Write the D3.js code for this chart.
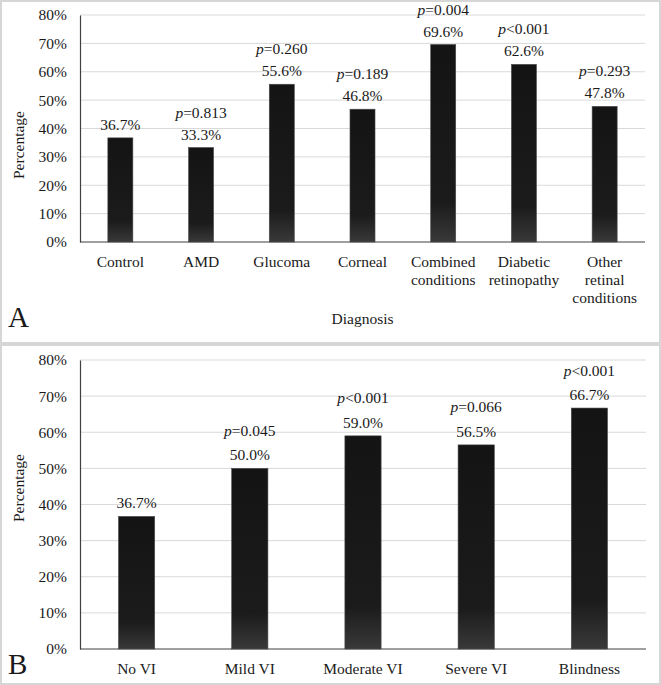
<!DOCTYPE html>
<html>
<head>
<meta charset="utf-8">
<script src="https://cdn.jsdelivr.net/npm/d3@7"></script>
<style>
  body { margin: 0; background: #fff; }
  svg text { font-family: "Liberation Serif", Tinos, "Times New Roman", "DejaVu Serif", serif; fill: #1a1a1a; }
</style>
</head>
<body>
<svg id="chart"></svg>
<script>
// Panel A data
const diagLabels = [["Control"], ["AMD"], ["Glucoma"], ["Corneal"],
  ["Combined", "conditions"], ["Diabetic", "retinopathy"], ["Other", "retinal", "conditions"]];
const diagValues = [36.7, 33.3, 55.6, 46.8, 69.6, 62.6, 47.8];
const diagP = [null, "=0.813", "=0.260", "=0.189", "=0.004", "<0.001", "=0.293"];

// Panel B data
const viLabels = [["No VI"], ["Mild VI"], ["Moderate VI"], ["Severe VI"], ["Blindness"]];
const viValues = [36.7, 50.0, 59.0, 56.5, 66.7];
const viP = [null, "=0.045", "<0.001", "=0.066", "<0.001"];

const yTicks = [0, 10, 20, 30, 40, 50, 60, 70, 80];

const fs = 15.5;

const svg = d3.select("#chart")
  .attr("width", 661)
  .attr("height", 685);

// bar gradient
const grad = svg.append("defs").append("linearGradient")
  .attr("id", "barGrad")
  .attr("x1", 0).attr("y1", 0).attr("x2", 0).attr("y2", 1);
grad.append("stop").attr("offset", "0%").attr("stop-color", "#141414");
grad.append("stop").attr("offset", "80%").attr("stop-color", "#1b1b1b");
grad.append("stop").attr("offset", "100%").attr("stop-color", "#393939");

// panel frames
svg.append("rect").attr("x", 1).attr("y", 1).attr("width", 659).attr("height", 342)
  .attr("fill", "none").attr("stroke", "#d6d6d6").attr("stroke-width", 2);
svg.append("rect").attr("x", 1).attr("y", 345).attr("width", 659).attr("height", 339)
  .attr("fill", "none").attr("stroke", "#d6d6d6").attr("stroke-width", 2);

function drawPanel(opt) {
  const g = svg.append("g");
  const x = d3.scaleBand()
    .domain(opt.labels.map((d, i) => i))
    .range([opt.left, opt.right])
    .paddingInner(opt.pad)
    .paddingOuter(opt.pad / 2);
  const y = d3.scaleLinear().domain([0, 80]).range([opt.bottom, opt.top]);

  // gridlines
  g.append("g").selectAll("line")
    .data(yTicks.slice(1))
    .join("line")
    .attr("x1", opt.left).attr("x2", opt.right)
    .attr("y1", d => y(d)).attr("y2", d => y(d))
    .attr("stroke", "#d9d9d9").attr("stroke-width", 1);

  // y axis
  const ya = g.append("g")
    .attr("transform", `translate(${opt.left},0)`)
    .call(d3.axisLeft(y).tickValues(yTicks).tickSize(0).tickPadding(13).tickFormat(d => d + "%"));
  ya.attr("font-family", null);
  ya.select(".domain").attr("stroke", "#404040").attr("stroke-width", 1.2);
  ya.selectAll("text").attr("font-size", fs).attr("fill", "#1a1a1a");

  // bars
  g.append("g").selectAll("rect")
    .data(opt.values)
    .join("rect")
    .attr("x", (d, i) => x(i))
    .attr("width", x.bandwidth())
    .attr("y", d => y(d))
    .attr("height", d => y(0) - y(d))
    .attr("fill", "url(#barGrad)")
    .attr("stroke", "#4a4a4a").attr("stroke-width", 0.6);

  // x axis line
  g.append("line")
    .attr("x1", opt.left).attr("x2", opt.right)
    .attr("y1", y(0)).attr("y2", y(0))
    .attr("stroke", "#404040").attr("stroke-width", 1.2);

  // value labels
  g.append("g").selectAll("text")
    .data(opt.values)
    .join("text")
    .attr("x", (d, i) => x(i) + x.bandwidth() / 2)
    .attr("y", d => y(d) - 8)
    .attr("text-anchor", "middle")
    .attr("font-size", fs)
    .text(d => d.toFixed(1) + "%");

  // p-value labels
  const pt = g.append("g").selectAll("text")
    .data(opt.pvals.map((p, i) => ({ p, i })).filter(d => d.p))
    .join("text")
    .attr("x", d => x(d.i) + x.bandwidth() / 2)
    .attr("y", d => y(opt.values[d.i]) - 8 - opt.pGap)
    .attr("text-anchor", "middle")
    .attr("font-size", fs);
  pt.append("tspan").attr("font-style", "italic").text("p");
  pt.append("tspan").text(d => d.p);

  // category labels
  const ct = g.append("g").selectAll("text")
    .data(opt.labels)
    .join("text")
    .attr("text-anchor", "middle")
    .attr("font-size", fs)
    .attr("y", opt.bottom + 25);
  ct.each(function (lines, i) {
    d3.select(this).selectAll("tspan")
      .data(lines)
      .join("tspan")
      .attr("x", x(i) + x.bandwidth() / 2)
      .attr("dy", (d, k) => k === 0 ? 0 : 18)
      .text(d => d);
  });

  // y title
  g.append("text")
    .attr("transform", `translate(${opt.yTitleX},${opt.yTitleY}) rotate(-90)`)
    .attr("text-anchor", "middle")
    .attr("font-size", fs)
    .text("Percentage");

  // panel letter
  g.append("text")
    .attr("x", opt.letterX).attr("y", opt.letterY)
    .attr("font-size", 29)
    .text(opt.letter);

  if (opt.xTitle) {
    g.append("text")
      .attr("x", (opt.left + opt.right) / 2)
      .attr("y", opt.xTitleY)
      .attr("text-anchor", "middle")
      .attr("font-size", fs)
      .text(opt.xTitle);
  }
}

drawPanel({
  labels: diagLabels, values: diagValues, pvals: diagP,
  left: 80, right: 645, top: 15, bottom: 242, pad: 0.69, pGap: 22,
  yTitleX: 24, yTitleY: 145, letter: "A", letterX: 8, letterY: 327,
  xTitle: "Diagnosis", xTitleY: 324
});

drawPanel({
  labels: viLabels, values: viValues, pvals: viP,
  left: 80, right: 646, top: 360, bottom: 649, pad: 0.68, pGap: 24.5,
  yTitleX: 24, yTitleY: 488, letter: "B", letterX: 8, letterY: 674
});
</script>
</body>
</html>
